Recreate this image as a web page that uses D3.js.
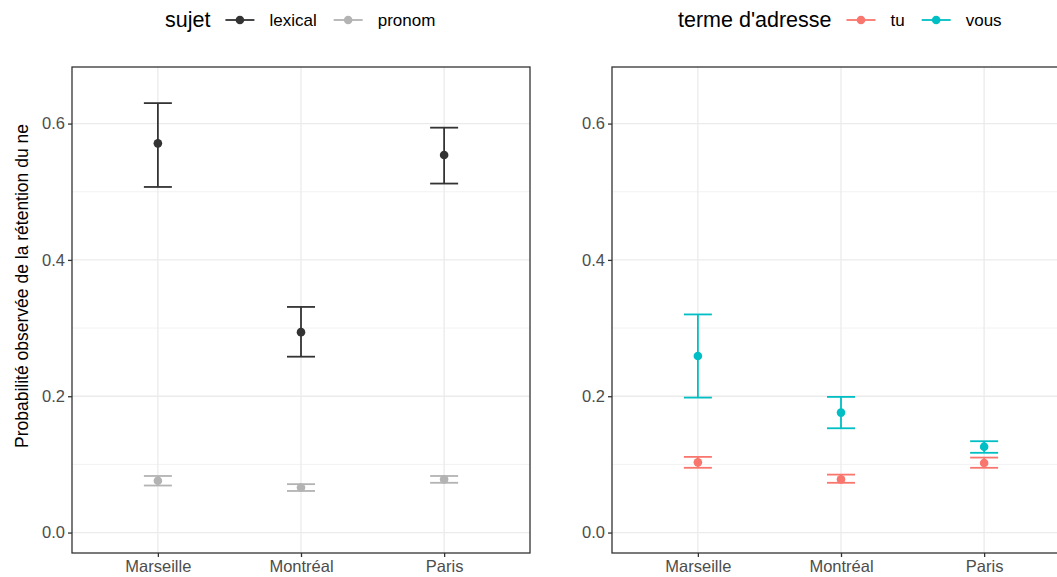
<!DOCTYPE html>
<html>
<head>
<meta charset="utf-8">
<script src="https://cdn.jsdelivr.net/npm/d3@7"></script>
<style>
  body { margin: 0; background: white; }
  text { font-family: "Liberation Sans", Arial, sans-serif; }
</style>
</head>
<body>
<script>
var width = 1057;
var height = 577;

// categories
var villes = ["Marseille", "Montréal", "Paris"];

// panel 1 : sujet
var sujetLevels = ["lexical", "pronom"];
var lexicalMean = [0.571, 0.294, 0.554];
var lexicalLow = [0.507, 0.258, 0.512];
var lexicalHigh = [0.630, 0.331, 0.594];
var pronomMean = [0.076, 0.066, 0.078];
var pronomLow = [0.069, 0.061, 0.073];
var pronomHigh = [0.083, 0.071, 0.083];

// panel 2 : terme d'adresse
var adresseLevels = ["tu", "vous"];
var tuMean = [0.103, 0.078, 0.102];
var tuLow = [0.095, 0.073, 0.095];
var tuHigh = [0.111, 0.085, 0.110];
var vousMean = [0.259, 0.176, 0.126];
var vousLow = [0.198, 0.153, 0.117];
var vousHigh = [0.320, 0.199, 0.134];

var yTicks = [0.0, 0.2, 0.4, 0.6];
var yMinor = [0.1, 0.3, 0.5];

function rows(means, lows, highs, group) {
  return villes.map(function (v, i) {
    return { ville: v, mean: means[i], low: lows[i], high: highs[i], group: group };
  });
}

var panels = [
  {
    left: 72,
    title: "sujet",
    levels: sujetLevels,
    colors: ["#333333", "#b3b3b3"],
    data: rows(lexicalMean, lexicalLow, lexicalHigh, "lexical").concat(rows(pronomMean, pronomLow, pronomHigh, "pronom")),
    legendX: 165
  },
  {
    left: 612,
    title: "terme d'adresse",
    levels: adresseLevels,
    colors: ["#F8766D", "#00BFC4"],
    data: rows(tuMean, tuLow, tuHigh, "tu").concat(rows(vousMean, vousLow, vousHigh, "vous")),
    legendX: 678
  }
];

var panelW = 458;
var panelTop = 67, panelBottom = 553;

var svg = d3.select("body").append("svg")
  .attr("width", width)
  .attr("height", height);

var y = d3.scaleLinear().domain([-0.030, 0.683]).range([panelBottom, panelTop]);

panels.forEach(function (p) {
  var x = d3.scalePoint().domain(villes).range([p.left, p.left + panelW]).padding(0.6);
  var color = d3.scaleOrdinal().domain(p.levels).range(p.colors);
  var g = svg.append("g");

  // grid
  g.selectAll(".minor").data(yMinor).enter().append("line")
    .attr("x1", p.left).attr("x2", p.left + panelW)
    .attr("y1", function (d) { return y(d); }).attr("y2", function (d) { return y(d); })
    .attr("stroke", "#f2f2f2").attr("stroke-width", 1);
  g.selectAll(".major").data(yTicks).enter().append("line")
    .attr("x1", p.left).attr("x2", p.left + panelW)
    .attr("y1", function (d) { return y(d); }).attr("y2", function (d) { return y(d); })
    .attr("stroke", "#ebebeb").attr("stroke-width", 1.3);
  g.selectAll(".vgrid").data(villes).enter().append("line")
    .attr("x1", function (d) { return x(d); }).attr("x2", function (d) { return x(d); })
    .attr("y1", panelTop).attr("y2", panelBottom)
    .attr("stroke", "#ebebeb").attr("stroke-width", 1.3);

  // axes
  var yAxis = g.append("g").attr("transform", "translate(" + p.left + ",0)")
    .call(d3.axisLeft(y).tickValues(yTicks).tickFormat(d3.format(".1f")).tickSize(4).tickPadding(3));
  var xAxis = g.append("g").attr("transform", "translate(0," + panelBottom + ")")
    .call(d3.axisBottom(x).tickSize(4).tickPadding(3));
  [yAxis, xAxis].forEach(function (a) {
    a.select(".domain").remove();
    a.selectAll(".tick line").attr("stroke", "#333333").attr("stroke-width", 1.3);
    a.selectAll(".tick text").attr("fill", "#4d4d4d").style("font-size", "16.5px")
      .style("font-family", "'Liberation Sans', Arial, sans-serif");
  });

  // error bars
  var bars = g.selectAll(".bar").data(p.data).enter().append("g");
  bars.append("line")
    .attr("x1", function (d) { return x(d.ville); }).attr("x2", function (d) { return x(d.ville); })
    .attr("y1", function (d) { return y(d.low); }).attr("y2", function (d) { return y(d.high); })
    .attr("stroke", function (d) { return color(d.group); }).attr("stroke-width", 1.8);
  ["low", "high"].forEach(function (k) {
    bars.append("line")
      .attr("x1", function (d) { return x(d.ville) - 14; }).attr("x2", function (d) { return x(d.ville) + 14; })
      .attr("y1", function (d) { return y(d[k]); }).attr("y2", function (d) { return y(d[k]); })
      .attr("stroke", function (d) { return color(d.group); }).attr("stroke-width", 1.8);
  });
  bars.append("circle")
    .attr("cx", function (d) { return x(d.ville); })
    .attr("cy", function (d) { return y(d.mean); })
    .attr("r", 4.3)
    .attr("fill", function (d) { return color(d.group); });

  // panel border
  g.append("rect")
    .attr("x", p.left).attr("y", panelTop)
    .attr("width", panelW).attr("height", panelBottom - panelTop)
    .attr("fill", "none").attr("stroke", "#333333").attr("stroke-width", 1.3);

  // legend
  var leg = svg.append("g").attr("transform", "translate(" + p.legendX + ",20)");
  var title = leg.append("text").attr("x", 0).attr("y", 7)
    .style("font-size", "21.5px").attr("fill", "black").text(p.title);
  var lx = title.node().getComputedTextLength() + 15;
  p.levels.forEach(function (lv) {
    leg.append("line").attr("x1", lx).attr("x2", lx + 29).attr("y1", 0).attr("y2", 0)
      .attr("stroke", color(lv)).attr("stroke-width", 1.8);
    leg.append("circle").attr("cx", lx + 14.5).attr("cy", 0).attr("r", 4.3).attr("fill", color(lv));
    var t = leg.append("text").attr("x", lx + 44).attr("y", 6)
      .style("font-size", "17px").attr("fill", "black").text(lv);
    lx += 44 + t.node().getComputedTextLength() + 17;
  });
});

// y axis title
svg.append("text")
  .attr("transform", "translate(28,286) rotate(-90)")
  .attr("text-anchor", "middle")
  .style("font-size", "17.5px")
  .attr("fill", "black")
  .text("Probabilité observée de la rétention du ne");
</script>
</body>
</html>
